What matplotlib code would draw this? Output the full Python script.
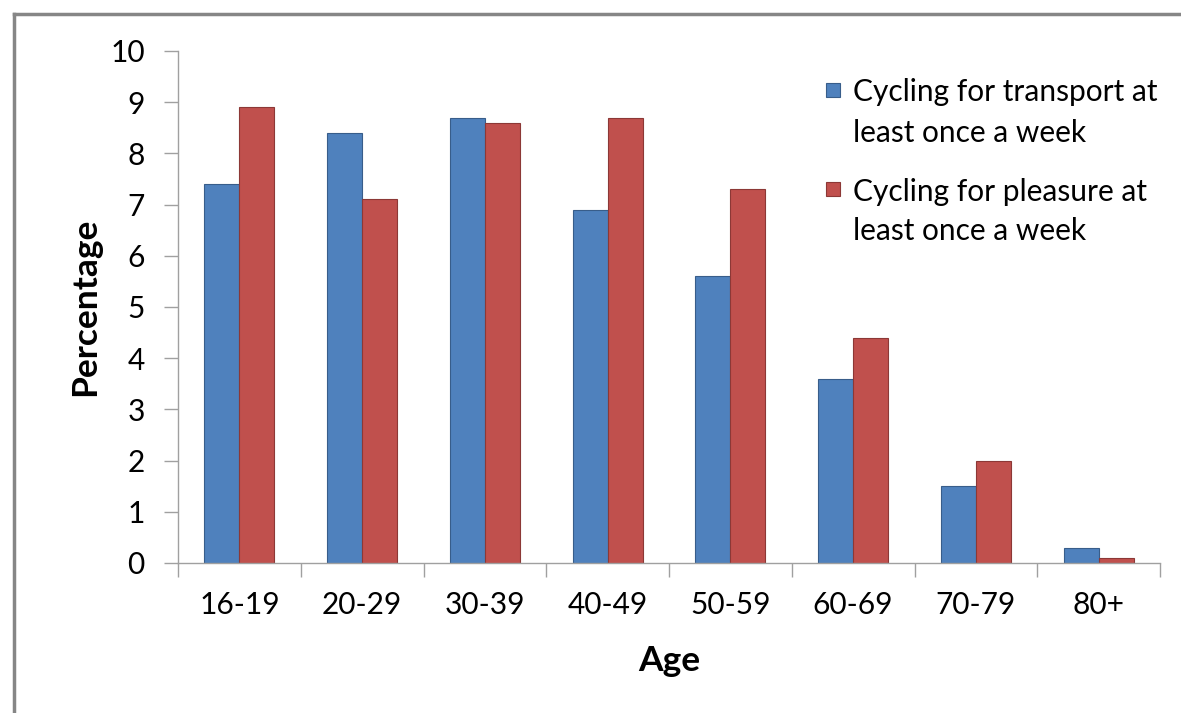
import matplotlib
matplotlib.use("Agg")
import matplotlib.pyplot as plt
import numpy as np
from matplotlib.patches import Rectangle
from matplotlib.lines import Line2D

categories = ["16-19", "20-29", "30-39", "40-49", "50-59", "60-69", "70-79", "80+"]
transport = [7.4, 8.4, 8.7, 6.9, 5.6, 3.6, 1.5, 0.3]
pleasure = [8.9, 7.1, 8.6, 8.7, 7.3, 4.4, 2.0, 0.1]
series_names = ["Cycling for transport at\nleast once a week",
                "Cycling for pleasure at\nleast once a week"]
yticks = list(range(0, 11))

colors = ["#4F81BD", "#C0504D"]
edges = ["#385D8A", "#8C3836"]

plt.rcParams['font.family'] = ['Lato', 'DejaVu Sans']

fig = plt.figure(figsize=(11.81, 7.13), dpi=100)
W, H = 1181, 713

# outer chart border (top and left visible)
fig.add_artist(Line2D([14 / W, 14 / W], [0, 1 - 14 / H], color="#868686", lw=2.5, transform=fig.transFigure))
fig.add_artist(Line2D([14 / W, 1], [1 - 14 / H, 1 - 14 / H], color="#868686", lw=2.5, transform=fig.transFigure))

ax = fig.add_axes([178 / W, 1 - 563 / H, (1160 - 178) / W, (563 - 51) / H])

x = np.arange(len(categories))
w = 1 / 3.5
ax.bar(x - w / 2, transport, width=w, color=colors[0], edgecolor=edges[0], linewidth=0.8)
ax.bar(x + w / 2, pleasure, width=w, color=colors[1], edgecolor=edges[1], linewidth=0.8)

ax.set_xlim(-0.5, len(categories) - 0.5)
ax.set_ylim(0, 10)
ax.set_yticks(yticks)
ax.set_yticklabels([str(t) for t in yticks])

ax.set_xticks(x)
ax.set_xticklabels(categories)
ax.set_xticks(np.arange(-0.5, len(categories), 1), minor=True)
ax.tick_params(axis="x", which="major", length=0, pad=20, labelsize=21.5, colors="#000000")
ax.tick_params(axis="x", which="minor", length=10, width=1, color="#A0A0A0")
ax.tick_params(axis="y", length=10, width=1, color="#A0A0A0", pad=14, labelsize=21.5)

for s in ["top", "right"]:
    ax.spines[s].set_visible(False)
for s in ["left", "bottom"]:
    ax.spines[s].set_color("#A0A0A0")
    ax.spines[s].set_linewidth(1)

fig.text(85 / W, 1 - 307 / H, "Percentage", fontsize=25.5, fontweight="bold",
         rotation=90, ha="center", va="center")
fig.text(669 / W, 1 - 661 / H, "Age", fontsize=25.5, fontweight="bold", ha="center", va="center")

# legend drawn manually (square aligned with first line)
line_centers = [[90, 130], [189, 229]]
for i, name in enumerate(series_names):
    c1 = line_centers[i][0]
    fig.add_artist(Rectangle((826 / W, 1 - (c1 + 7) / H), 14 / W, 14 / H,
                             facecolor=colors[i], edgecolor=edges[i], lw=0.8,
                             transform=fig.transFigure))
    for j, line in enumerate(name.split("\n")):
        fig.text(853 / W, 1 - line_centers[i][j] / H, line, fontsize=21.5,
                 ha="left", va="center_baseline")

fig.savefig("out.png", dpi=100)
